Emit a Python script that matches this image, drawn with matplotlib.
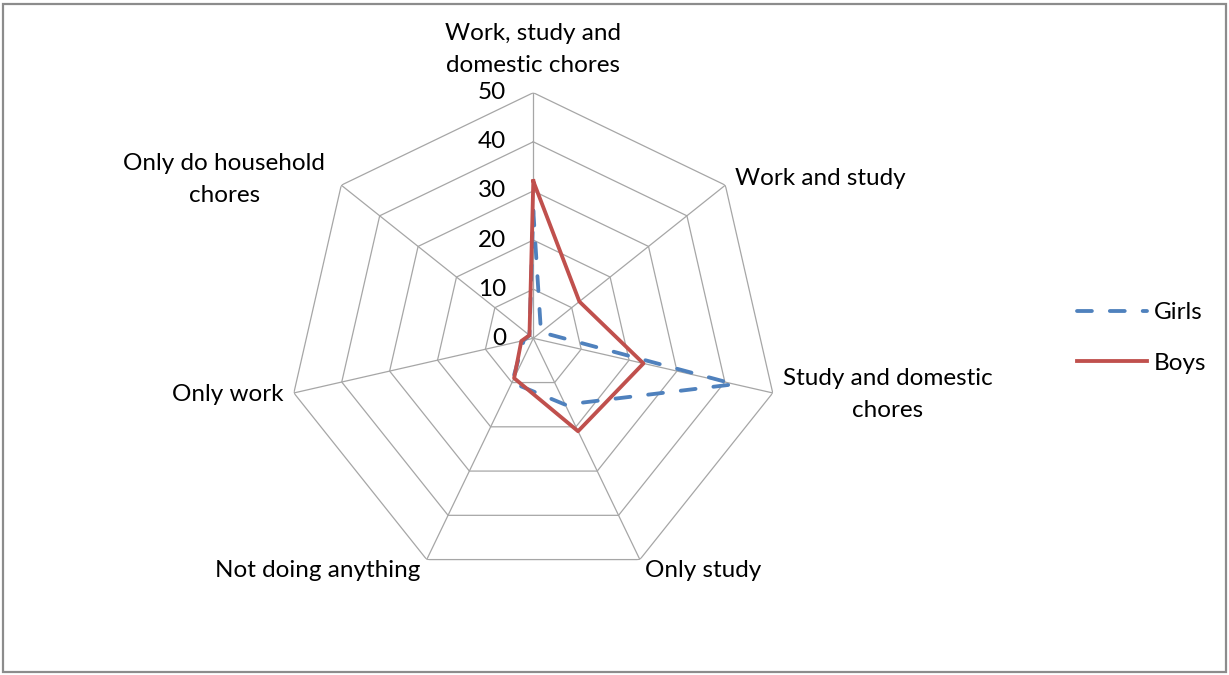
import numpy as np
import matplotlib
matplotlib.use("Agg")
import matplotlib.pyplot as plt
from matplotlib.lines import Line2D
from matplotlib.patches import Rectangle

# data
categories = [
    "Work, study and\ndomestic chores",
    "Work and study",
    "Study and domestic\nchores",
    "Only study",
    "Not doing anything",
    "Only work",
    "Only do household\nchores",
]
girls = [26, 2, 42, 15, 10, 2, 1]
boys = [32, 12, 23, 21, 9, 2.5, 1]
ticks = [0, 10, 20, 30, 40, 50]

# label placement: (offset px x, offset px y, ha)
label_pos = [
    (0, 43, "center"),
    (10, 7, "left"),
    (10, -2, "left"),
    (5, -11, "left"),
    (-6, -11, "right"),
    (-10, -2, "right"),
    (-16, 6, "right"),
]

plt.rcParams["font.family"] = ["Lato", "DejaVu Sans"]
FS = 17.5

W, H = 1229, 675
fig = plt.figure(figsize=(W / 100, H / 100), dpi=100)

cx, cy, rad = 533.3, 338.3, 245.6
ax = fig.add_axes([(cx - rad) / W, (H - cy - rad) / H, 2 * rad / W, 2 * rad / H],
                  projection="polar")
ax.set_theta_zero_location("N")
ax.set_theta_direction(-1)
ax.set_ylim(0, 50)
ax.grid(False)
ax.spines["polar"].set_visible(False)
ax.set_xticks([])
ax.set_yticks([])
ax.patch.set_visible(False)

n = len(categories)
ang = np.arange(n) * 2 * np.pi / n
ang_c = np.append(ang, ang[0])

grid_col = "#a6a6a6"
for r in ticks[1:]:
    ax.plot(ang_c, [r] * (n + 1), color=grid_col, lw=0.9, zorder=1)
for a in ang:
    ax.plot([a, a], [0, 50], color=grid_col, lw=0.9, zorder=1)

for r in ticks:
    ax.annotate(str(r), xy=(0, r), xytext=(-27, 0), textcoords="offset pixels",
                ha="right", va="center", fontsize=FS, color="#000000")

for a, lab, (ox, oy, ha) in zip(ang, categories, label_pos):
    ax.annotate(lab, xy=(a, 50), xytext=(ox, oy), textcoords="offset pixels",
                ha=ha, va="center", multialignment="center", fontsize=FS,
                color="#000000", linespacing=1.65)

blue = "#4f81bd"
red = "#c0504d"
ax.plot(ang_c, girls + girls[:1], color=blue, lw=2.75, dashes=(3.9, 4.7),
        dash_capstyle="round", zorder=3)
ax.plot(ang_c, boys + boys[:1], color=red, lw=2.75, solid_joinstyle="round",
        zorder=4)

handles = [
    Line2D([], [], color=blue, lw=2.75, dashes=(3.9, 4.7), dash_capstyle="round"),
    Line2D([], [], color=red, lw=2.75),
]
fig.legend(handles, ["Girls", "Boys"], loc="center left",
           bbox_to_anchor=(1077 / W, 1 - 338 / H), frameon=False,
           fontsize=FS, handlelength=2.9, handletextpad=0.25, labelspacing=1.2,
           borderpad=0, borderaxespad=0)

fig.patches.append(Rectangle((3 / W, 3 / H), 1223 / W, 668 / H,
                             transform=fig.transFigure, fill=False,
                             edgecolor="#8c8c8c", lw=1.6))

fig.savefig("out.png", dpi=100)
